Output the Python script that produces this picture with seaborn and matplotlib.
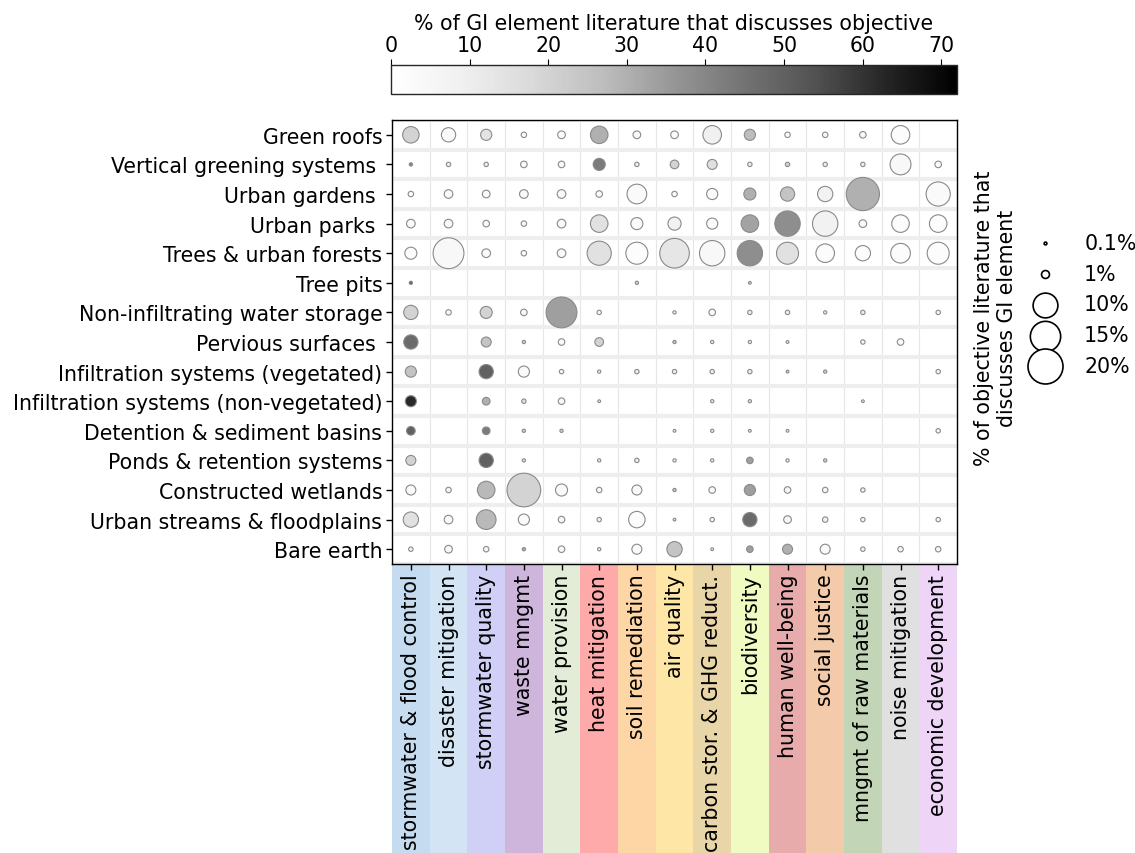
"""
Bubble matrix: GI elements vs objectives
"""
import numpy as np
import pandas as pd
import matplotlib
matplotlib.use("Agg")
import matplotlib.pyplot as plt
import seaborn as sns
from matplotlib.colors import Normalize
from matplotlib.cm import ScalarMappable

nan = np.nan

elements = [
    "Green roofs", "Vertical greening systems ", "Urban gardens ", "Urban parks ",
    "Trees & urban forests", "Tree pits", "Non-infiltrating water storage",
    "Pervious surfaces ", "Infiltration systems (vegetated)",
    "Infiltration systems (non-vegetated)", "Detention & sediment basins",
    "Ponds & retention systems", "Constructed wetlands",
    "Urban streams & floodplains", "Bare earth",
]

objectives = [
    "stormwater & flood control", "disaster mitigation", "stormwater quality",
    "waste mngmt", "water provision", "heat mitigation", "soil remediation",
    "air quality", "carbon stor. & GHG reduct.", "biodiversity",
    "human well-being", "social justice", "mngmt of raw materials",
    "noise mitigation", "economic development",
]

band_colors = [
    "#c5dcf0", "#d3e5f4", "#d0cff5", "#ceb5dc", "#e2ecd7", "#ffaaaa", "#fed6a6",
    "#fee6a6", "#e9d6a8", "#f0fbc2", "#e8abab", "#f3cbaa", "#c3d5b7", "#e0e0e0",
    "#eed5f7",
]

# % of GI element literature that discusses objective (colour)
pct_element = [
    [20, 3, 14, 2, 2, 30, 3, 3, 9, 27, 2, 5, 3, 2, nan],
    [40, 10, 10, 3, 3, 43, 10, 20, 16, 10, 20, 10, 10, 4, 3],
    [3, 3, 3, 3, 3, 3, 3, 3, 3, 30, 25, 8, 30, nan, 3],
    [3, 3, 3, 3, 3, 15, 3, 8, 3, 33, 38, 8, 3, 2, 2],
    [2, 4, 3, 3, 3, 15, 2, 13, 4, 38, 15, 2, 2, 2, 2],
    [50, nan, nan, nan, nan, nan, 20, nan, nan, 20, nan, nan, nan, nan, nan],
    [20, 3, 20, 5, 34, 5, nan, 10, 3, 10, 10, 10, 10, nan, 5],
    [47, nan, 25, 20, 3, 20, nan, 25, 10, 10, 10, nan, 5, 3, nan],
    [25, nan, 50, 3, 5, 10, 10, 10, 10, 10, 20, 20, nan, nan, 5],
    [62, nan, 30, 15, 5, 10, nan, nan, 10, 15, nan, nan, 10, nan, nan],
    [50, nan, 43, 20, 20, nan, nan, 10, 10, 10, 10, nan, nan, nan, 5],
    [20, nan, 50, 15, nan, 10, 10, 10, 10, 34, 10, 20, nan, nan, nan],
    [3, 5, 28, 20, 3, 5, 3, 25, 3, 34, 5, 5, 8, nan, nan],
    [15, 3, 28, 3, 5, 8, 2, 15, 5, 47, 5, 8, 5, nan, 5],
    [5, 5, 5, 30, 5, 10, 3, 25, 10, 34, 30, 3, 5, 5, 5],
]

# % of objective literature that discusses GI element (size)
pct_objective = [
    [4.4, 3.3, 2.0, 0.46, 0.94, 5.0, 0.94, 0.94, 5.6, 2.0, 0.46, 0.46, 0.68, 5.6, nan],
    [0.15, 0.29, 0.29, 0.68, 0.68, 2.35, 0.29, 1.2, 1.6, 0.29, 0.29, 0.29, 0.29, 7.1, 0.68],
    [0.46, 1.2, 0.94, 1.2, 1.2, 0.68, 6.3, 0.46, 2.0, 2.35, 3.3, 3.8, 18.0, nan, 9.5],
    [1.2, 1.2, 0.68, 0.46, 1.2, 5.0, 2.35, 2.8, 2.0, 5.0, 10.5, 10.5, 0.94, 5.0, 5.0],
    [2.35, 15.5, 1.2, 0.46, 1.2, 9.5, 7.9, 14.3, 10.5, 10.5, 7.9, 5.6, 3.8, 6.3, 7.9],
    [0.15, nan, nan, nan, nan, nan, 0.15, nan, nan, 0.03, nan, nan, nan, nan, nan],
    [3.3, 0.46, 2.35, 0.68, 15.5, 0.29, nan, 0.15, 0.68, 0.29, 0.29, 0.15, 0.29, nan, 0.29],
    [3.3, nan, 1.6, 0.15, 0.68, 1.2, nan, 0.15, 0.15, 0.15, 0.05, nan, 0.29, 0.68, nan],
    [2.0, nan, 3.3, 2.0, 0.29, 0.15, 0.29, 0.29, 0.29, 0.29, 0.05, 0.15, nan, nan, 0.29],
    [2.0, nan, 0.94, 0.29, 0.68, 0.05, nan, nan, 0.15, 0.15, nan, nan, 0.05, nan, nan],
    [1.2, nan, 0.94, 0.15, 0.15, nan, nan, 0.05, 0.15, 0.05, 0.05, nan, nan, nan, 0.29],
    [1.6, nan, 3.3, 0.15, nan, 0.15, 0.29, 0.15, 0.15, 0.68, 0.15, 0.15, nan, nan, nan],
    [1.6, 0.46, 5.0, 18.5, 2.35, 0.46, 1.6, 0.15, 0.68, 2.0, 0.68, 0.46, 0.29, nan, nan],
    [3.8, 1.2, 6.3, 2.0, 0.68, 0.29, 4.4, 0.05, 0.29, 3.3, 0.94, 0.46, 0.29, nan, 0.29],
    [0.29, 0.94, 0.46, 0.15, 0.68, 0.15, 1.6, 3.8, 0.05, 0.68, 1.6, 1.6, 0.29, 0.46, 0.46],
]

legend_values = [0.1, 1, 10, 15, 20]

# long-form table for seaborn
rows = []
for i, elem in enumerate(elements):
    for j, obj in enumerate(objectives):
        c = pct_element[i][j]
        s = pct_objective[i][j]
        if np.isnan(c) or np.isnan(s):
            continue
        rows.append({"row": i, "col": j, "element": elem, "objective": obj,
                     "pct_element": c, "pct_objective": s})
df = pd.DataFrame(rows)

sns.set_style("ticks")
plt.rcParams["font.family"] = ["DejaVu Sans"]
plt.rcParams["text.color"] = "black"
plt.rcParams["axes.labelcolor"] = "black"
plt.rcParams["xtick.color"] = "black"
plt.rcParams["ytick.color"] = "black"

FS = 14.8
SIZES = (4, 635)
SIZE_NORM = (0.1, 20)
HUE_NORM = (0, 72)


def size_for(v):
    lo, hi = SIZES
    return lo + (v - SIZE_NORM[0]) / (SIZE_NORM[1] - SIZE_NORM[0]) * (hi - lo)


fig = plt.figure(figsize=(11.35, 8.54), dpi=100)

# coloured bands below the matrix
band_ax = fig.add_axes([0.3454, 0.0, 0.4978, 0.3384], zorder=0)
for j, col in enumerate(band_colors):
    band_ax.axvspan(j - 0.5, j + 0.5, color=col, lw=0)
band_ax.set_xlim(-0.5, len(objectives) - 0.5)
band_ax.axis("off")

ax = fig.add_axes([0.3454, 0.3384, 0.4978, 0.5199], zorder=2)
sns.scatterplot(data=df, x="col", y="row", hue="pct_element", size="pct_objective",
                palette="Greys", hue_norm=HUE_NORM, sizes=SIZES, size_norm=SIZE_NORM,
                edgecolor="#8a8a8a", linewidth=0.8, legend=False, ax=ax, zorder=3)

ax.set_xlim(-0.5, len(objectives) - 0.5)
ax.set_ylim(len(elements) - 0.5, -0.5)
ax.set_xticks(range(len(objectives)))
ax.set_xticklabels(objectives, rotation=90, fontsize=FS)
ax.set_yticks(range(len(elements)))
ax.set_yticklabels(elements, fontsize=FS)
ax.set_xlabel("")
ax.set_ylabel("")
ax.set_xticks(np.arange(-0.5, len(objectives), 1), minor=True)
ax.set_yticks(np.arange(-0.5, len(elements), 1), minor=True)
ax.tick_params(which="minor", length=0)
ax.tick_params(which="major", length=4, width=1, direction="out", color="black", pad=3)
ax.grid(which="minor", axis="y", color="#eeeeee", lw=3)
ax.grid(which="minor", axis="x", color="#e6e6e6", lw=0.8)
ax.grid(which="major", visible=False)
ax.set_axisbelow(True)
for sp in ax.spines.values():
    sp.set_visible(True)
    sp.set_color("black")
    sp.set_linewidth(1)

# colourbar on top
cax = fig.add_axes([0.3445, 0.8888, 0.4987, 0.034])
sm = ScalarMappable(norm=Normalize(*HUE_NORM), cmap="Greys")
cbar = fig.colorbar(sm, cax=cax, orientation="horizontal", ticks=range(0, 71, 10))
cax.xaxis.set_ticks_position("top")
cax.xaxis.set_label_position("top")
cbar.set_label("% of GI element literature that discusses objective", fontsize=FS)
cax.tick_params(labelsize=FS, length=4)
cbar.outline.set_linewidth(1)

# size legend
handles = [ax.scatter([], [], s=size_for(v), facecolor="white", edgecolor="black",
                      linewidth=1.2) for v in legend_values]
labels = [f"{v:g}%" for v in legend_values]
fig.legend(handles, labels, loc="upper left", bbox_to_anchor=(0.890, 0.743),
           frameon=False, fontsize=FS, labelspacing=0.52, handletextpad=0.9,
           borderpad=0.2)
fig.text(0.877, 0.627, "% of objective literature that\ndiscusses GI element",
         rotation=90, ha="center", va="center", fontsize=FS, multialignment="center")

fig.savefig("out.png", dpi=100, facecolor="white")
